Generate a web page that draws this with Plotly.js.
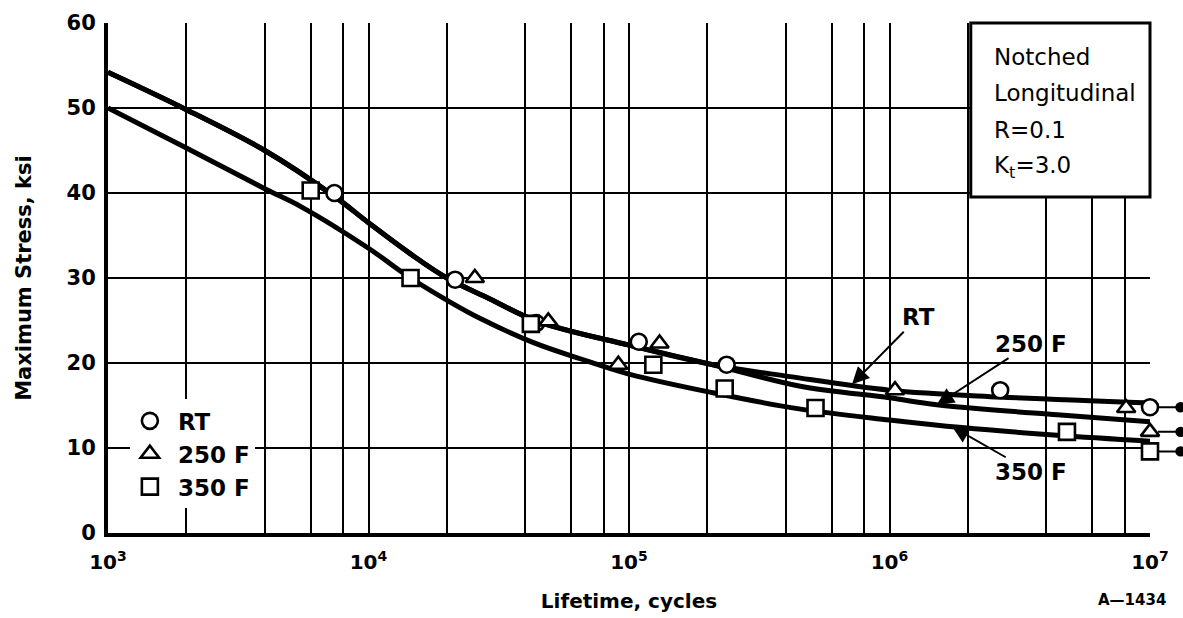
<!DOCTYPE html>
<html>
<head>
<meta charset="utf-8">
<script src="https://cdn.plot.ly/plotly-3.0.1.min.js"></script>
<style>
  html, body { margin: 0; padding: 0; background: #fff; }
  #chart { width: 1183px; height: 618px; }
</style>
</head>
<body>
<div id="chart"></div>
<script>
// ---- Test data ----
const rtX   = [7.4e3, 2.15e4, 4.4e4, 1.09e5, 2.37e5, 2.66e6, 1.0e7];
const rtY   = [40, 29.8, 24.7, 22.5, 19.8, 16.8, 14.8];
const f250X = [2.56e4, 4.9e4, 9.1e4, 1.31e5, 1.05e6, 8.1e6, 1.0e7];
const f250Y = [30, 24.9, 19.8, 22.3, 16.8, 14.7, 11.9];
const f350X = [6.0e3, 1.45e4, 4.2e4, 1.24e5, 2.33e5, 5.2e5, 4.8e6, 1.0e7];
const f350Y = [40.3, 30, 24.6, 19.8, 17.0, 14.7, 11.9, 9.6];

// ---- Fitted curves ----
const rtCurveX = [1e3, 2.0e3, 4.0e3, 7.4e3, 1.0e4, 1.44e4, 2.0e4, 2.9e4, 4.45e4, 1.0e5, 2.1e5, 4.15e5, 1.0e6, 2.65e6, 1e7];
const rtCurveY = [54.2, 49.8, 45.0, 39.6, 36.5, 32.9, 30.0, 27.6, 24.9, 22.1, 19.8, 18.4, 16.8, 16.0, 15.3];
const c250X = [1e3, 2.0e3, 4.0e3, 7.4e3, 1.0e4, 1.44e4, 2.0e4, 2.9e4, 4.45e4, 1.0e5, 2.1e5, 4.5e5, 1.0e6, 1.52e6, 4.4e6, 1e7];
const c250Y = [54.2, 49.8, 45.0, 39.6, 36.5, 32.9, 30.0, 27.6, 24.9, 22.1, 19.8, 17.3, 15.9, 15.1, 13.9, 13.1];
const c350X = [1e3, 2.0e3, 4.0e3, 5.5e3, 1.0e4, 1.45e4, 2.05e4, 2.7e4, 4.3e4, 6.5e4, 1.0e5, 2.1e5, 4.5e5, 1.0e6, 1.9e6, 4.4e6, 1e7];
const c350Y = [50.0, 45.3, 40.5, 38.4, 33.5, 30.0, 27.2, 25.2, 22.4, 20.5, 18.7, 16.5, 14.6, 13.3, 12.4, 11.5, 10.8];

// ---- Axis ticks ----
const decades = [1e3, 1e4, 1e5, 1e6, 1e7];
const decadeLabels = ['10<sup>3</sup>', '10<sup>4</sup>', '10<sup>5</sup>', '10<sup>6</sup>', '10<sup>7</sup>'];
const gridMultipliers = [2, 4, 6, 8];
const yTicks = [0, 10, 20, 30, 40, 50, 60];

// ---- Labels ----
const seriesNames = ['RT', '250 F', '350 F'];
const boxLines = ['Notched', 'Longitudinal', 'R=0.1', 'K<sub>t</sub>=3.0'];
const curveLabelX = [7.18e5, 1.52e6, 1.74e6];
const curveLabelY = [17.5, 15.1, 12.5];

const minorGrid = [];
decades.slice(0, -1).forEach(d => gridMultipliers.forEach(m => minorGrid.push(d * m)));

const FONT = 'DejaVu Sans, Arial, sans-serif';
const lineStyle = { color: '#000', width: 5, shape: 'spline', smoothing: 1 };
function curve(x, y) {
  return { x, y, type: 'scatter', mode: 'lines', line: lineStyle, showlegend: false, hoverinfo: 'skip' };
}
function pts(x, y, name, symbol, i) {
  return {
    x, y, name: '\u00a0' + name, type: 'scatter', mode: 'markers', cliponaxis: false,
    legendgroup: 'g' + i,
    marker: { symbol, size: 16, color: '#fff', line: { color: '#000', width: 2.6 } }
  };
}

const data = [
  curve(rtCurveX, rtCurveY),
  curve(c250X, c250Y),
  curve(c350X, c350Y),
  pts(rtX, rtY, seriesNames[0], 'circle', 0),
  pts(f250X, f250Y, seriesNames[1], 'triangle-up', 1),
  pts(f350X, f350Y, seriesNames[2], 'square', 2)
];

const annotations = [];
// info box text
const boxY = [0.933, 0.863, 0.790, 0.718];
boxLines.forEach((t, i) => annotations.push({
  xref: 'paper', yref: 'paper', x: 0.848, y: boxY[i], xanchor: 'left', yanchor: 'middle',
  text: t, showarrow: false, font: { family: FONT, size: 23, color: '#000' }
}));
// curve labels with arrows
const lblOff = [[66, -67], [94, -61], [79, 45]];
seriesNames.forEach((n, i) => annotations.push({
  x: Math.log10(curveLabelX[i]), y: curveLabelY[i], xref: 'x', yref: 'y',
  text: n, showarrow: true, arrowhead: 2, arrowsize: 1.7, arrowwidth: 2, arrowcolor: '#000',
  ax: lblOff[i][0], ay: lblOff[i][1],
  font: { family: FONT, size: 23, color: '#000', weight: 'bold' }
}));
// run-out arrows (last point of each series)
[[rtX, rtY], [f250X, f250Y], [f350X, f350Y]].forEach(([xs, ys]) => annotations.push({
  x: Math.log10(xs[xs.length - 1]), y: ys[ys.length - 1], xref: 'x', yref: 'y',
  text: '', showarrow: true, arrowside: 'start', startarrowhead: 6, startarrowsize: 1.3,
  arrowwidth: 2, arrowcolor: '#000', ax: 32, ay: 0, standoff: 8
}));
annotations.push({
  xref: 'paper', yref: 'paper', x: 1.017, y: -0.131, xanchor: 'right', yanchor: 'middle',
  text: 'A\u20141434', showarrow: false,
  font: { family: FONT, size: 15, color: '#000', weight: 'bold' }
});

const layout = {
  width: 1183, height: 618,
  margin: { l: 108, r: 33, t: 23, b: 85 },
  paper_bgcolor: '#fff', plot_bgcolor: '#fff',
  font: { family: FONT, color: '#000' },
  showlegend: true,
  legend: {
    x: 0.021, y: 0.262, xanchor: 'left', yanchor: 'top',
    bgcolor: '#fff', borderwidth: 0, traceorder: 'grouped', tracegroupgap: 0,
    font: { family: FONT, size: 23, color: '#000', weight: 'bold' }
  },
  xaxis: {
    type: 'log', range: [3, 7],
    tickvals: decades, ticktext: decadeLabels, ticks: '',
    showgrid: true, gridcolor: '#000', gridwidth: 2,
    minor: { tickvals: minorGrid, showgrid: true, gridcolor: '#000', gridwidth: 2, ticks: '' },
    showline: true, linecolor: '#000', linewidth: 4,
    zeroline: false, ticklabelstandoff: 8,
    tickfont: { family: FONT, size: 20, color: '#000', weight: 'bold' },
    title: { text: 'Lifetime, cycles', standoff: 22, font: { family: FONT, size: 20, color: '#000', weight: 'bold' } }
  },
  yaxis: {
    range: [0, 60], tickvals: yTicks, ticks: '',
    showgrid: true, gridcolor: '#000', gridwidth: 2,
    showline: true, linecolor: '#000', linewidth: 4,
    zeroline: false, ticklabelstandoff: 4,
    tickfont: { family: FONT, size: 21, color: '#000', weight: 'bold' },
    title: { text: 'Maximum Stress, ksi', standoff: 30, font: { family: FONT, size: 21, color: '#000', weight: 'bold' } }
  },
  shapes: [{
    type: 'rect', xref: 'paper', yref: 'paper', x0: 0.828, x1: 1.0, y0: 0.659, y1: 1.0,
    fillcolor: '#fff', line: { color: '#000', width: 3 }, layer: 'above'
  }],
  annotations
};

Plotly.newPlot('chart', data, layout, { displayModeBar: false, staticPlot: true });
</script>
</body>
</html>
